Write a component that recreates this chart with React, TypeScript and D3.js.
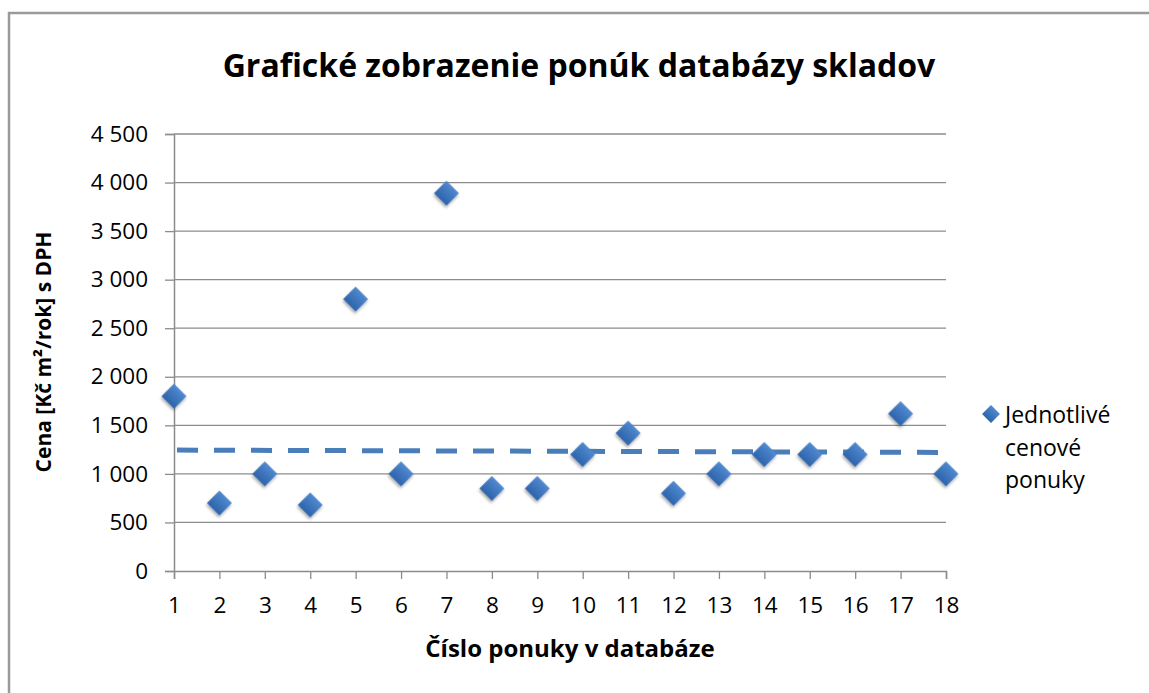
import {useEffect, useRef} from "react";
import * as d3 from "d3";

// offer numbers and price per offer (Kč m²/rok s DPH)
const offers = [1, 2, 3, 4, 5, 6, 7, 8, 9, 10, 11, 12, 13, 14, 15, 16, 17, 18];
const prices = [1800, 700, 1000, 680, 2800, 1000, 3890, 850, 850, 1200, 1420, 800, 1000, 1200, 1200, 1200, 1620, 1000];
// dashed trend line, value at first and last offer
const trendX = [1, 18];
const trendY = [1245, 1221];
const yTicks = [0, 500, 1000, 1500, 2000, 2500, 3000, 3500, 4000, 4500];
const legendLines = ["Jednotlivé", "cenové", "ponuky"];

function App() {
    const ref = useRef<SVGSVGElement>(null);
    const width = 1149, height = 693;
    const font = "'Open Sans', sans-serif";

    useEffect(() => {
        const svg = d3.select(ref.current);
        svg.selectAll("*").remove();

        const x = d3.scaleLinear().domain([1, 18]).range([174, 946]);
        const y = d3.scaleLinear().domain([0, 4500]).range([571, 134]);

        const defs = svg.append("defs");
        const grad = defs.append("linearGradient")
            .attr("id", "dgrad").attr("x1", 0).attr("y1", 0).attr("x2", 0).attr("y2", 1);
        grad.append("stop").attr("offset", "0%").attr("stop-color", "#5089cf");
        grad.append("stop").attr("offset", "100%").attr("stop-color", "#2d63aa");
        const shadow = defs.append("filter").attr("id", "shadow")
            .attr("x", "-50%").attr("y", "-50%").attr("width", "200%").attr("height", "200%");
        shadow.append("feDropShadow")
            .attr("dx", 1).attr("dy", 2).attr("stdDeviation", 1.5)
            .attr("flood-color", "#000").attr("flood-opacity", 0.35);

        // outer frame
        svg.append("rect")
            .attr("x", 9).attr("y", 13).attr("width", 1160).attr("height", 700)
            .attr("fill", "white").attr("stroke", "#9a9a9a").attr("stroke-width", 2.5);

        // gridlines
        svg.append("g").selectAll("line")
            .data(yTicks.filter(d => d > 0))
            .enter().append("line")
            .attr("x1", 174).attr("x2", 946)
            .attr("y1", d => y(d)).attr("y2", d => y(d))
            .attr("stroke", "#8c8c8c").attr("stroke-width", 1.3);

        // y axis
        const yAxis = svg.append("g")
            .attr("transform", "translate(174,0)")
            .call(d3.axisLeft(y).tickValues(yTicks).tickSize(9).tickPadding(17)
                .tickFormat(d => d3.format(",")(d as number).replace(",", " ")));
        // x axis
        const xAxis = svg.append("g")
            .attr("transform", "translate(0,571)")
            .call(d3.axisBottom(x).tickValues(offers).tickSize(8).tickPadding(18)
                .tickFormat(d3.format("d")));
        [yAxis, xAxis].forEach(a => {
            a.select(".domain").attr("stroke", "#8c8c8c").attr("stroke-width", 1.5);
            a.selectAll(".tick line").attr("stroke", "#8c8c8c").attr("stroke-width", 1.3);
            a.selectAll(".tick text")
                .attr("fill", "#000").style("font-family", font).style("font-size", "22.5px");
        });

        // dashed trend line
        svg.append("path")
            .datum(trendX.map((d, i) => [x(d), y(trendY[i])] as [number, number]))
            .attr("d", d3.line())
            .attr("fill", "none")
            .attr("stroke", "#4a7ebb")
            .attr("stroke-width", 5)
            .attr("stroke-dasharray", "21 16")
            .attr("transform", "translate(3,0)");

        // diamond markers
        const diamond = d3.symbol().type(d3.symbolSquare).size(310);
        svg.append("g").selectAll("path")
            .data(offers)
            .enter().append("path")
            .attr("d", diamond)
            .attr("transform", (d, i) => `translate(${x(d)},${y(prices[i])}) rotate(45)`)
            .attr("fill", "url(#dgrad)")
            .attr("filter", "url(#shadow)");

        // title
        svg.append("text")
            .attr("x", 579).attr("y", 77)
            .attr("text-anchor", "middle")
            .attr("font-family", font).attr("font-weight", "bold").attr("font-size", 32)
            .text("Grafické zobrazenie ponúk databázy skladov");

        // axis titles
        svg.append("text")
            .attr("transform", "translate(51,352) rotate(-90)")
            .attr("text-anchor", "middle")
            .attr("font-family", font).attr("font-weight", "bold").attr("font-size", 21)
            .text("Cena [Kč m²/rok] s DPH");
        svg.append("text")
            .attr("x", 570).attr("y", 657)
            .attr("text-anchor", "middle")
            .attr("font-family", font).attr("font-weight", "bold").attr("font-size", 24)
            .text("Číslo ponuky v databáze");

        // legend
        const legend = svg.append("g").attr("transform", "translate(991,414)");
        legend.append("path")
            .attr("d", d3.symbol().type(d3.symbolSquare).size(160))
            .attr("transform", "rotate(45)")
            .attr("fill", "url(#dgrad)");
        legend.selectAll("text")
            .data(legendLines)
            .enter().append("text")
            .attr("x", 14).attr("y", (d, i) => 9 + i * 32.5)
            .attr("font-family", font).attr("font-size", 23)
            .text(d => d);
    });

    return (
        <svg ref={ref} width={width} height={height}
             style={{position: "absolute", left: 0, top: 0, background: "white"}} />
    );
}

export default App;
